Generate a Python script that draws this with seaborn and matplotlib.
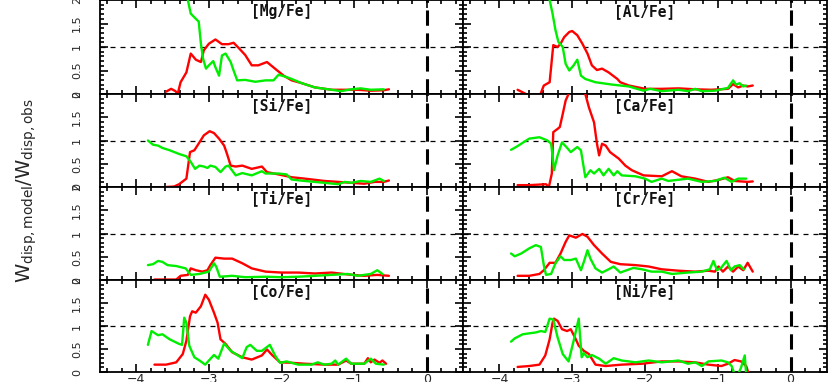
import numpy as np
import pandas as pd
import matplotlib
matplotlib.use("Agg")
import matplotlib.pyplot as plt
from matplotlib.ticker import MultipleLocator, FixedLocator
import seaborn as sns

# ---------------- data ----------------
panels = ["[Mg/Fe]", "[Al/Fe]", "[Si/Fe]", "[Ca/Fe]",
          "[Ti/Fe]", "[Cr/Fe]", "[Co/Fe]", "[Ni/Fe]"]

mg_red_x = [-3.59, -3.52, -3.46, -3.43, -3.39, -3.31, -3.25, -3.18, -3.11, -3.07, -3.00, -2.91, -2.82, -2.73,
            -2.66, -2.59, -2.50, -2.41, -2.32, -2.20, -2.09, -1.97, -1.86, -1.72, -1.54, -1.31, -1.13, -0.95,
            -0.77, -0.59, -0.52]
mg_red_y = [0.05, 0.11, 0.06, 0.00, 0.25, 0.46, 0.86, 0.73, 0.68, 0.93, 1.07, 1.16, 1.06, 1.06,
            1.09, 0.98, 0.83, 0.61, 0.61, 0.68, 0.54, 0.39, 0.29, 0.23, 0.14, 0.09, 0.09, 0.09,
            0.07, 0.08, 0.10]
mg_grn_x = [-3.33, -3.29, -3.25, -3.18, -3.14, -3.11, -3.08, -3.04, -3.00, -2.94, -2.91, -2.86, -2.82, -2.77,
            -2.70, -2.66, -2.61, -2.50, -2.36, -2.22, -2.11, -2.04, -1.95, -1.86, -1.72, -1.54, -1.31, -1.18,
            -1.04, -0.91, -0.77, -0.59]
mg_grn_y = [2.30, 2.00, 1.71, 1.60, 1.54, 1.07, 0.75, 0.54, 0.61, 0.70, 0.57, 0.39, 0.82, 0.86,
            0.68, 0.50, 0.29, 0.30, 0.26, 0.29, 0.29, 0.41, 0.37, 0.32, 0.23, 0.14, 0.09, 0.06,
            0.10, 0.12, 0.09, 0.10]

al_red_x = [-3.75, -3.61, -3.44, -3.39, -3.31, -3.26, -3.20, -3.16, -3.11, -3.04, -3.00, -2.93, -2.86, -2.79,
            -2.73, -2.66, -2.59, -2.50, -2.38, -2.34, -2.22, -2.00, -1.77, -1.54, -1.31, -1.09, -0.86, -0.79,
            -0.72, -0.65, -0.59, -0.52]
al_red_y = [0.09, -0.02, -0.02, 0.18, 0.25, 1.04, 1.00, 1.07, 1.21, 1.32, 1.34, 1.25, 1.07, 0.86,
            0.61, 0.51, 0.54, 0.46, 0.32, 0.25, 0.18, 0.11, 0.11, 0.12, 0.10, 0.09, 0.11, 0.21,
            0.14, 0.18, 0.16, 0.18]
al_grn_x = [-3.34, -3.31, -3.27, -3.23, -3.19, -3.13, -3.09, -3.04, -2.98, -2.93, -2.88, -2.82, -2.68, -2.45,
            -2.22, -2.02, -1.93, -1.77, -1.54, -1.41, -1.31, -1.22, -1.04, -0.86, -0.79, -0.75, -0.70, -0.65,
            -0.61]
al_grn_y = [2.30, 2.00, 1.71, 1.36, 1.11, 1.00, 0.64, 0.50, 0.61, 0.73, 0.39, 0.32, 0.25, 0.20,
            0.16, 0.07, 0.11, 0.06, 0.09, 0.06, 0.11, 0.06, 0.07, 0.13, 0.29, 0.20, 0.23, 0.16,
            0.18]

si_red_x = [-3.59, -3.48, -3.41, -3.31, -3.26, -3.20, -3.13, -3.07, -2.99, -2.93, -2.86, -2.79, -2.75, -2.70,
            -2.63, -2.54, -2.41, -2.27, -2.20, -2.04, -1.86, -1.68, -1.41, -1.22, -1.04, -0.86, -0.72,
            -0.59, -0.52]
si_red_y = [0.00, 0.01, 0.06, 0.18, 0.75, 0.79, 0.96, 1.11, 1.20, 1.16, 1.04, 0.89, 0.71, 0.46,
            0.44, 0.46, 0.39, 0.44, 0.32, 0.27, 0.21, 0.18, 0.13, 0.11, 0.09, 0.07, 0.11,
            0.11, 0.14]
si_grn_x = [-3.84, -3.77, -3.70, -3.64, -3.54, -3.41, -3.31, -3.25, -3.19, -3.13, -3.07, -3.02, -2.98, -2.91,
            -2.84, -2.77, -2.73, -2.63, -2.54, -2.41, -2.27, -2.22, -2.04, -1.93, -1.86, -1.68, -1.41,
            -1.22, -1.13, -1.04, -0.91, -0.77, -0.65, -0.59]
si_grn_y = [1.00, 0.91, 0.89, 0.84, 0.79, 0.71, 0.66, 0.54, 0.39, 0.46, 0.44, 0.41, 0.46, 0.43,
            0.32, 0.44, 0.46, 0.25, 0.30, 0.25, 0.34, 0.29, 0.29, 0.27, 0.16, 0.13, 0.09,
            0.06, 0.11, 0.09, 0.13, 0.11, 0.18, 0.13]

ca_red_x = [-3.75, -3.59, -3.36, -3.32, -3.28, -3.26, -3.20, -3.17, -3.13, -3.09, -3.05, -2.92, -2.82, -2.77,
            -2.70, -2.66, -2.63, -2.59, -2.54, -2.48, -2.36, -2.27, -2.18, -2.02, -1.77, -1.63, -1.50,
            -1.31, -1.13, -0.97, -0.86, -0.77, -0.59, -0.52]
ca_red_y = [0.04, 0.04, 0.06, 0.00, 0.29, 1.18, 1.25, 1.29, 1.57, 1.86, 2.00, 2.30, 2.00, 1.71,
            1.39, 0.93, 0.68, 0.93, 0.89, 0.75, 0.61, 0.46, 0.36, 0.25, 0.23, 0.34, 0.23,
            0.18, 0.11, 0.16, 0.21, 0.13, 0.11, 0.12]
ca_grn_x = [-3.84, -3.77, -3.70, -3.59, -3.45, -3.34, -3.29, -3.27, -3.25, -3.20, -3.14, -3.08, -3.02, -2.93,
            -2.88, -2.82, -2.75, -2.70, -2.63, -2.57, -2.50, -2.43, -2.38, -2.32, -2.13, -2.00, -1.91,
            -1.77, -1.68, -1.41, -1.22, -1.04, -0.91, -0.81, -0.72, -0.61]
ca_grn_y = [0.80, 0.86, 0.93, 1.04, 1.07, 1.00, 0.93, 0.68, 0.36, 0.68, 0.96, 0.86, 0.75, 0.86,
            0.79, 0.21, 0.36, 0.29, 0.39, 0.25, 0.39, 0.25, 0.34, 0.25, 0.23, 0.18, 0.11,
            0.18, 0.13, 0.18, 0.11, 0.13, 0.20, 0.11, 0.18, 0.18]

ti_red_x = [-3.75, -3.45, -3.39, -3.29, -3.25, -3.18, -3.09, -3.02, -2.98, -2.91, -2.79, -2.68, -2.54, -2.41,
            -2.22, -2.00, -1.77, -1.54, -1.31, -1.09, -0.86, -0.68, -0.52]
ti_red_y = [0.01, 0.01, 0.09, 0.11, 0.25, 0.21, 0.18, 0.21, 0.32, 0.48, 0.46, 0.46, 0.36, 0.25,
            0.18, 0.16, 0.16, 0.14, 0.16, 0.12, 0.09, 0.11, 0.09]
ti_grn_x = [-3.84, -3.77, -3.70, -3.64, -3.57, -3.45, -3.32, -3.25, -3.13, -3.00, -2.93, -2.90, -2.85, -2.68,
            -2.50, -2.22, -2.00, -1.77, -1.54, -1.31, -1.09, -0.95, -0.86, -0.77, -0.68, -0.61]
ti_grn_y = [0.32, 0.34, 0.41, 0.39, 0.32, 0.30, 0.25, 0.11, 0.13, 0.18, 0.36, 0.29, 0.07, 0.09,
            0.06, 0.07, 0.06, 0.07, 0.09, 0.11, 0.13, 0.09, 0.11, 0.13, 0.21, 0.13]

cr_red_x = [-3.75, -3.59, -3.45, -3.39, -3.31, -3.23, -3.16, -3.09, -3.04, -2.95, -2.86, -2.79, -2.70, -2.59,
            -2.47, -2.34, -2.13, -1.95, -1.77, -1.54, -1.31, -1.13, -1.04, -0.99, -0.93, -0.86, -0.79,
            -0.72, -0.65, -0.59, -0.52]
cr_red_y = [0.09, 0.09, 0.13, 0.21, 0.37, 0.37, 0.57, 0.82, 0.96, 0.91, 0.99, 0.93, 0.75, 0.57,
            0.39, 0.34, 0.32, 0.29, 0.23, 0.20, 0.18, 0.20, 0.18, 0.29, 0.18, 0.29, 0.18,
            0.29, 0.21, 0.37, 0.18]
cr_grn_x = [-3.84, -3.79, -3.70, -3.59, -3.50, -3.43, -3.39, -3.36, -3.29, -3.23, -3.16, -3.11, -3.02, -2.95,
            -2.88, -2.84, -2.79, -2.75, -2.68, -2.59, -2.50, -2.43, -2.34, -2.25, -2.16, -2.04, -1.91,
            -1.77, -1.63, -1.41, -1.22, -1.11, -1.06, -1.01, -0.95, -0.88, -0.82, -0.77, -0.70, -0.64]
cr_grn_y = [0.57, 0.51, 0.57, 0.68, 0.75, 0.71, 0.32, 0.11, 0.13, 0.36, 0.51, 0.43, 0.43, 0.46,
            0.21, 0.39, 0.64, 0.46, 0.25, 0.16, 0.23, 0.29, 0.16, 0.21, 0.26, 0.23, 0.18,
            0.18, 0.13, 0.16, 0.18, 0.23, 0.41, 0.21, 0.27, 0.41, 0.21, 0.29, 0.32, 0.23]

co_red_x = [-3.75, -3.59, -3.45, -3.36, -3.31, -3.26, -3.23, -3.18, -3.11, -3.05, -3.00, -2.93, -2.88, -2.84,
            -2.77, -2.68, -2.54, -2.41, -2.27, -2.20, -2.13, -2.02, -1.86, -1.68, -1.41, -1.22, -1.11,
            -1.04, -0.86, -0.81, -0.77, -0.72, -0.65, -0.61, -0.56]
co_red_y = [0.16, 0.16, 0.21, 0.39, 0.68, 1.21, 1.32, 1.29, 1.43, 1.68, 1.57, 1.29, 1.07, 0.71,
            0.61, 0.43, 0.32, 0.27, 0.36, 0.49, 0.37, 0.21, 0.20, 0.18, 0.16, 0.16, 0.25,
            0.18, 0.18, 0.30, 0.21, 0.27, 0.20, 0.25, 0.18]
co_grn_x = [-3.84, -3.79, -3.70, -3.64, -3.54, -3.41, -3.37, -3.34, -3.31, -3.27, -3.20, -3.13, -3.05, -3.00,
            -2.93, -2.87, -2.79, -2.70, -2.63, -2.54, -2.48, -2.43, -2.34, -2.27, -2.16, -2.09, -2.02,
            -1.93, -1.77, -1.59, -1.50, -1.41, -1.31, -1.26, -1.22, -1.11, -1.04, -0.86, -0.77, -0.70,
            -0.59]
co_grn_y = [0.59, 0.89, 0.80, 0.82, 0.71, 0.61, 0.59, 1.18, 1.07, 0.57, 0.32, 0.25, 0.16, 0.25,
            0.37, 0.29, 0.62, 0.46, 0.39, 0.30, 0.54, 0.59, 0.46, 0.46, 0.59, 0.36, 0.20,
            0.23, 0.16, 0.16, 0.21, 0.16, 0.18, 0.25, 0.16, 0.29, 0.18, 0.18, 0.29, 0.18,
            0.16]

ni_red_x = [-3.75, -3.59, -3.45, -3.37, -3.31, -3.27, -3.25, -3.20, -3.14, -3.07, -3.02, -2.95, -2.91, -2.84,
            -2.77, -2.68, -2.54, -2.32, -2.04, -1.77, -1.54, -1.31, -1.13, -0.95, -0.86, -0.77, -0.68,
            -0.61, -0.58]
ni_red_y = [0.11, 0.13, 0.16, 0.36, 0.71, 1.07, 1.16, 1.11, 0.93, 0.89, 0.93, 0.71, 0.57, 0.46,
            0.39, 0.16, 0.13, 0.16, 0.18, 0.23, 0.23, 0.21, 0.16, 0.13, 0.18, 0.26, 0.23,
            0.13, -0.02]
ni_grn_x = [-3.84, -3.79, -3.68, -3.59, -3.50, -3.43, -3.37, -3.31, -3.26, -3.20, -3.13, -3.05, -2.98, -2.91,
            -2.87, -2.84, -2.79, -2.73, -2.63, -2.54, -2.43, -2.32, -2.13, -1.95, -1.77, -1.54, -1.41,
            -1.31, -1.22, -1.13, -0.95, -0.86, -0.81, -0.77, -0.72, -0.68, -0.63, -0.61]
ni_grn_y = [0.66, 0.73, 0.82, 0.84, 0.86, 0.89, 0.87, 1.16, 1.14, 0.75, 0.39, 0.23, 0.68, 1.16,
            0.32, 0.41, 0.32, 0.37, 0.29, 0.18, 0.30, 0.25, 0.21, 0.25, 0.21, 0.25, 0.18,
            0.21, 0.13, 0.23, 0.25, 0.21, 0.13, -0.05, -0.05, 0.10, 0.36, -0.05]

red_x = [mg_red_x, al_red_x, si_red_x, ca_red_x, ti_red_x, cr_red_x, co_red_x, ni_red_x]
red_y = [mg_red_y, al_red_y, si_red_y, ca_red_y, ti_red_y, cr_red_y, co_red_y, ni_red_y]
grn_x = [mg_grn_x, al_grn_x, si_grn_x, ca_grn_x, ti_grn_x, cr_grn_x, co_grn_x, ni_grn_x]
grn_y = [mg_grn_y, al_grn_y, si_grn_y, ca_grn_y, ti_grn_y, cr_grn_y, co_grn_y, ni_grn_y]

y_ticks = [0, 0.5, 1, 1.5, 2]
y_tick_labels = ["0", "0.5", "1", "1.5", "2"]
x_ticks = [-4, -3, -2, -1, 0]
x_tick_labels = ["\u22124", "\u22123", "\u22122", "\u22121", "0"]

# ---------------- figure ----------------
sns.set_style("ticks")
plt.rcParams["font.family"] = ["DejaVu Sans"]

W, H = 830, 382
fig = plt.figure(figsize=(W / 100, H / 100), dpi=100)

col_left = [100 / W, 463 / W]
col_w = [363 / W, 364 / W]
row_edges_px = [0, 94, 187, 280, 372]

RED = "#ff0000"
GREEN = "#00ee00"

for i, name in enumerate(panels):
    r, c = divmod(i, 2)
    top = 1 - row_edges_px[r] / H
    bot = 1 - row_edges_px[r + 1] / H
    ax = fig.add_axes([col_left[c], bot, col_w[c], top - bot])

    ax.axhline(1.0, color="black", lw=0.9, ls=(0, (4, 4)), zorder=1)
    ax.axvline(0.0, color="black", lw=2.2, ls=(0, (5, 2.5)), zorder=1)

    sns.lineplot(x=red_x[i], y=red_y[i], ax=ax, color=RED, lw=1.7,
                 sort=False, estimator=None, zorder=3)
    sns.lineplot(x=grn_x[i], y=grn_y[i], ax=ax, color=GREEN, lw=1.7,
                 sort=False, estimator=None, zorder=4)

    ax.set_xlim(-4.5, 0.5)
    ax.set_ylim(0, 2)
    ax.set_xlabel("")
    ax.set_ylabel("")

    ax.xaxis.set_major_locator(FixedLocator(x_ticks))
    ax.xaxis.set_minor_locator(MultipleLocator(0.2))
    ax.yaxis.set_major_locator(FixedLocator(y_ticks))
    ax.yaxis.set_minor_locator(MultipleLocator(0.1))
    ax.tick_params(which="both", direction="in", top=True, right=True,
                   bottom=True, left=True, width=1.2, color="black")
    ax.tick_params(which="major", length=6)
    ax.tick_params(which="minor", length=3)

    if r == 3:
        ax.set_xticklabels(x_tick_labels, fontsize=9)
        ax.tick_params(axis="x", which="major", pad=0.5)
    else:
        ax.set_xticklabels([])

    if c == 0:
        ax.set_yticklabels(y_tick_labels, fontsize=8, rotation=90, va="center")
        ax.tick_params(axis="y", which="major", pad=13)
    else:
        ax.set_yticklabels([])

    for sp in ax.spines.values():
        sp.set_linewidth(1.3)
        sp.set_color("black")

    ax.text(-2.0, 1.75, name, ha="center", va="center", fontsize=10.5,
            fontweight="bold", family="DejaVu Sans Mono", color="#111111")

fig.text(0.032, 0.5, r"$\mathrm{W}_{\rm disp,model}/\mathrm{W}_{\rm disp,obs}$", rotation=90,
         ha="center", va="center", fontsize=14)

fig.savefig("out.png", dpi=100)
